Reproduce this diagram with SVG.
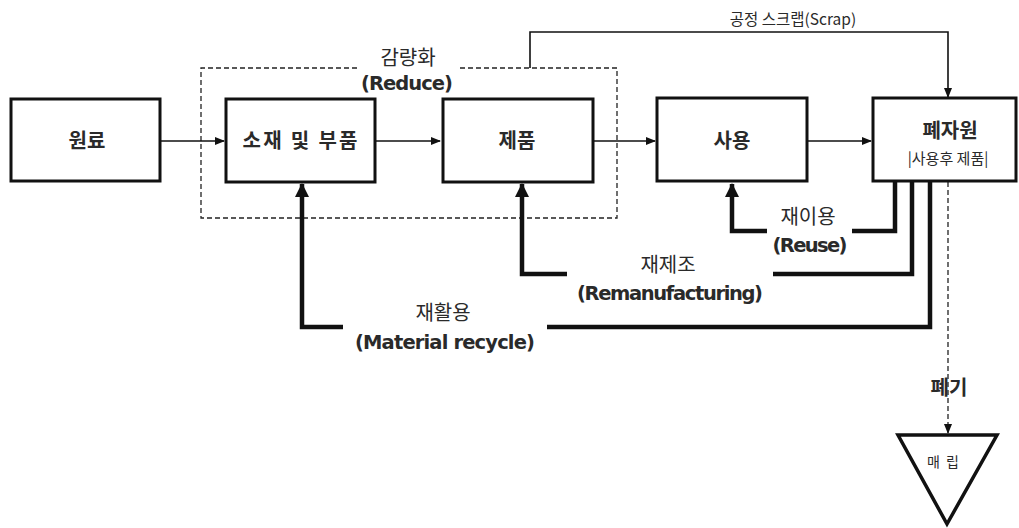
<svg xmlns="http://www.w3.org/2000/svg" width="1019" height="528" viewBox="0 0 1019 528">
<style>
.box{fill:#fff;stroke:#111;stroke-width:3}
.t{font-family:"Noto Sans CJK KR","Noto Sans",sans-serif;fill:#2a2a2a;text-anchor:middle}
.b{font-weight:bold;font-size:20px}
.k{font-size:20px}
.e{font-family:"DejaVu Sans","Noto Sans CJK KR",sans-serif;font-weight:bold;font-size:19.5px;fill:#2a2a2a;text-anchor:middle}
.thin{fill:none;stroke:#111;stroke-width:1.6}
.thick{fill:none;stroke:#111;stroke-width:4.5}
.dash{fill:none;stroke:#222;stroke-width:1.3;stroke-dasharray:5,3}
</style>
<defs>
<marker id="a" markerWidth="10" markerHeight="8" refX="9" refY="4" orient="auto" markerUnits="userSpaceOnUse"><path d="M0,0 L10,4 L0,8 Z" fill="#111"/></marker>
<marker id="A" markerWidth="14" markerHeight="14" refX="13" refY="7" orient="auto" markerUnits="userSpaceOnUse"><path d="M0,0 L14,7 L0,14 Z" fill="#111"/></marker>
</defs>
<g id="reduce-region">
<path class="dash" d="M357,68 H201 V218 H617 V68 H457"/>
<text class="t k" x="408" y="65">감량화</text>
<text class="e" x="407" y="90" textLength="92">(Reduce)</text>
</g>
<g id="connectors">
<line class="thin" x1="160" y1="141" x2="224" y2="141" marker-end="url(#a)"/>
<line class="thin" x1="375" y1="141" x2="440" y2="141" marker-end="url(#a)"/>
<line class="thin" x1="593" y1="141" x2="655" y2="141" marker-end="url(#a)"/>
<line class="thin" x1="807" y1="141" x2="871" y2="141" marker-end="url(#a)"/>
<path class="thin" d="M530,68 V32 H948 V97" marker-end="url(#a)"/>
<text class="t" x="793" y="25" font-size="15.5">공정 스크랩(Scrap)</text>
<path class="thick" d="M895,181 V231 H852"/>
<path class="thick" d="M767,231 H732 V184" marker-end="url(#A)"/>
<text class="t k" x="808" y="224">재이용</text>
<text class="e" x="810" y="252" textLength="75">(Reuse)</text>
<path class="thick" d="M912,181 V274 H773"/>
<path class="thick" d="M567,274 H522 V184" marker-end="url(#A)"/>
<text class="t k" x="668" y="272">재제조</text>
<text class="e" x="670" y="300" textLength="186">(Remanufacturing)</text>
<path class="thick" d="M930,181 V327 H547"/>
<path class="thick" d="M343,327 H302 V184" marker-end="url(#A)"/>
<text class="t k" x="443" y="320">재활용</text>
<text class="e" x="445" y="349" textLength="180">(Material recycle)</text>
<line class="dash" x1="948" y1="182" x2="948" y2="433" marker-end="url(#a)"/>
<text class="t b" x="949" y="395">폐기</text>
</g>
<g id="n-raw"><rect class="box" x="11" y="99" width="149" height="82"/><text class="t b" x="87" y="148">원료</text></g>
<g id="n-parts"><rect class="box" x="226" y="99" width="149" height="83"/><text class="t b" x="300" y="148" font-size="21" textLength="115">소재 및 부품</text></g>
<g id="n-product"><rect class="box" x="443" y="99" width="150" height="83"/><text class="t b" x="517" y="148">제품</text></g>
<g id="n-use"><rect class="box" x="657" y="98" width="150" height="83"/><text class="t b" x="732" y="148">사용</text></g>
<g id="n-waste"><rect class="box" x="873" y="98" width="143" height="83"/><text class="t b" x="950" y="138">폐자원</text><text class="t" x="948" y="164" font-size="15">|사용후 제품|</text></g>
<g id="n-landfill"><path d="M898,435 H997 L947,524 Z" fill="#fff" stroke="#111" stroke-width="3.5" stroke-linejoin="miter"/><text class="t" x="943" y="467" font-size="14" xml:space="preserve">매  립</text></g>
</svg>
